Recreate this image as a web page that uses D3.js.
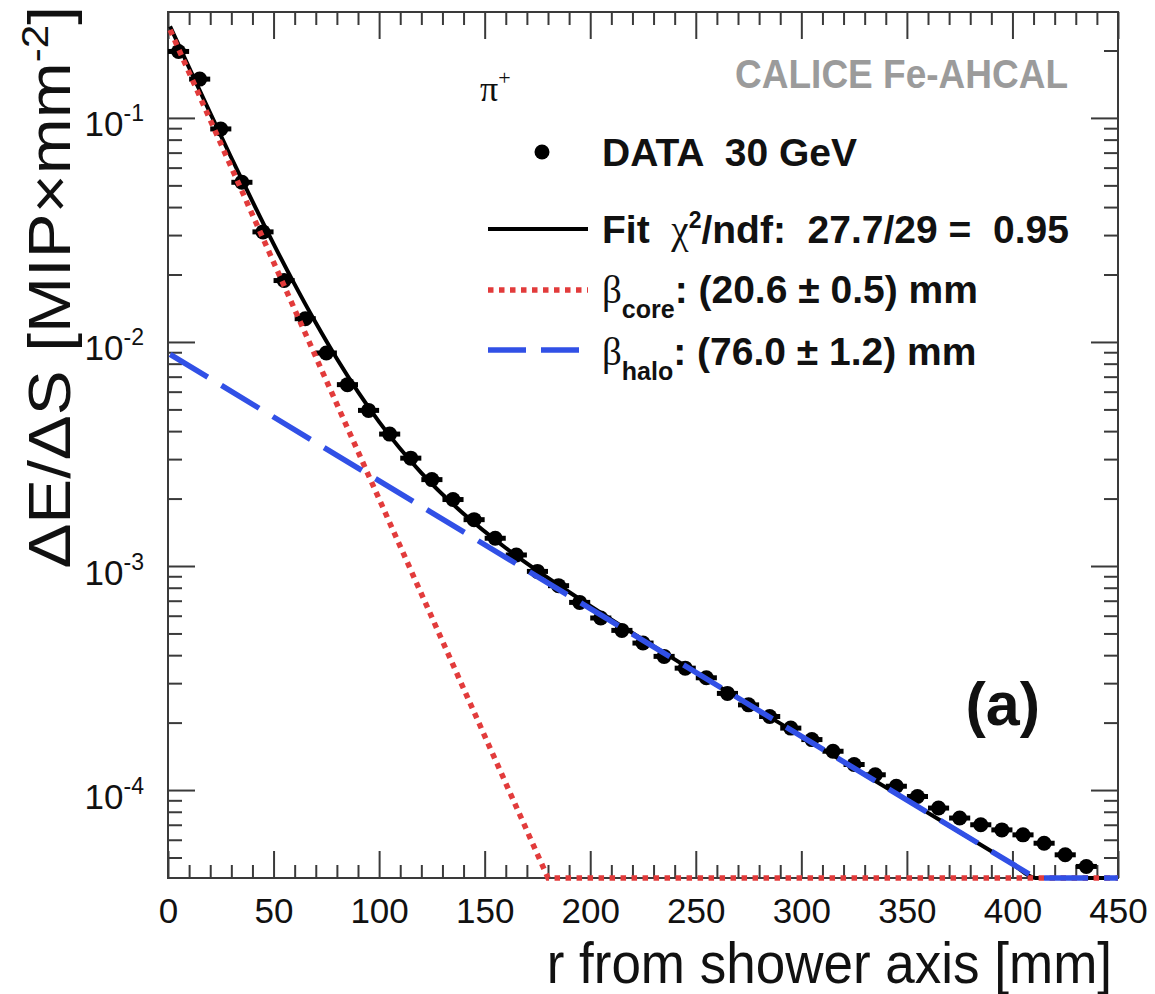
<!DOCTYPE html>
<html>
<head>
<meta charset="utf-8">
<script src="https://cdn.jsdelivr.net/npm/d3@7"></script>
<style>
  html, body { margin: 0; padding: 0; background: #fff; }
  svg { display: block; }
  text { font-family: "Liberation Sans", Arial, Helvetica, sans-serif; }
</style>
</head>
<body>
<div id="chart"></div>
<script>
const width = 1155;
const height = 994;
const frame = { left: 168, right: 1118, top: 12, bottom: 878 };

// bin centres [mm] and energy density per bin
const binCentres = [5, 15, 25, 35, 45, 55, 65, 75, 85, 95, 105, 115, 125, 135, 145, 155, 165, 175, 185, 195,
  205, 215, 225, 235, 245, 255, 265, 275, 285, 295, 305, 315, 325, 335, 345, 355, 365, 375, 385, 395,
  405, 415, 425, 435];
const energyDensity = [0.198, 0.149, 0.0893, 0.0516, 0.0310, 0.0188, 0.0127, 0.00893, 0.00645, 0.00495,
  0.00388, 0.00303, 0.00243, 0.00198, 0.00161, 0.00133, 0.00112, 0.000946, 0.000817, 0.000688,
  0.000586, 0.000516, 0.000453, 0.000395, 0.000350, 0.000317, 0.000270, 0.000240, 0.000213, 0.000189,
  0.000168, 0.000149, 0.000130, 0.000117, 0.000104, 0.0000936, 0.0000831, 0.0000750, 0.0000700, 0.0000664,
  0.0000631, 0.0000579, 0.0000514, 0.0000456];
const binHalfWidth = 5;

// fit curves (values below the frame sit on the x axis)
const fitR = [1, 10, 20, 30, 40, 50, 60, 70, 80, 90, 100, 120, 140, 160, 180, 200, 250, 300, 350, 400, 411, 450];
const fitValue = [0.2560, 0.1676, 0.1051, 0.0664, 0.0424, 0.0274, 0.01807, 0.01217, 0.00841, 0.00599, 0.00440,
  0.002605, 0.00171, 0.001203, 0.000884, 0.000664, 0.000335, 0.000174, 0.0000902, 0.0000468, 0.0000405, 0.0000405];
const coreR = [1, 180, 450];
const coreValue = [0.247, 0.0000405, 0.0000405];
const haloR = [1, 411, 450];
const haloValue = [0.0088, 0.0000405, 0.0000405];

const xDomain = [0, 450];
const yDomain = [0.0000405, 0.297];
const xMajorTicks = [0, 50, 100, 150, 200, 250, 300, 350, 400, 450];
const yMajorTicks = [1e-4, 1e-3, 1e-2, 1e-1];
const yTickExponents = ['-4', '-3', '-2', '-1'];

const fitColor = '#000000';
const coreColor = '#e23b3b';
const haloColor = '#3150e6';
const frameColor = '#3a3a3a';

const svg = d3.select('#chart').append('svg')
  .attr('width', width)
  .attr('height', height);

const x = d3.scaleLinear().domain(xDomain).range([frame.left, frame.right]);
const y = d3.scaleLog().domain(yDomain).range([frame.bottom, frame.top]);

const xMinor = d3.range(0, 451, 10).filter(v => v % 50 !== 0);
const yMinor = y.ticks().filter(v => !yMajorTicks.some(m => Math.abs(m - v) / m < 1e-6));

// axes with inward ticks
function styleAxis(g) {
  g.select('.domain').remove();
  g.selectAll('.tick line').attr('stroke', frameColor).attr('stroke-width', 2);
}

svg.append('g')
  .attr('transform', `translate(0,${frame.bottom})`)
  .call(d3.axisBottom(x).tickValues(xMajorTicks).tickSizeInner(-27).tickSizeOuter(0).tickPadding(20).tickFormat(d3.format('d')))
  .call(styleAxis)
  .call(g => g.selectAll('.tick text').attr('fill', '#111').style('font-size', '35px'));
svg.append('g')
  .attr('transform', `translate(0,${frame.bottom})`)
  .call(d3.axisBottom(x).tickValues(xMinor).tickSizeInner(-13).tickSizeOuter(0).tickFormat(''))
  .call(styleAxis);
svg.append('g')
  .attr('transform', `translate(0,${frame.top})`)
  .call(d3.axisTop(x).tickValues(xMajorTicks).tickSizeInner(-27).tickSizeOuter(0).tickFormat(''))
  .call(styleAxis);
svg.append('g')
  .attr('transform', `translate(0,${frame.top})`)
  .call(d3.axisTop(x).tickValues(xMinor).tickSizeInner(-13).tickSizeOuter(0).tickFormat(''))
  .call(styleAxis);

const yAxisLeft = svg.append('g')
  .attr('transform', `translate(${frame.left},0)`)
  .call(d3.axisLeft(y).tickValues(yMajorTicks).tickSizeInner(-27).tickSizeOuter(0).tickFormat(''))
  .call(styleAxis);
svg.append('g')
  .attr('transform', `translate(${frame.left},0)`)
  .call(d3.axisLeft(y).tickValues(yMinor).tickSizeInner(-14).tickSizeOuter(0).tickFormat(''))
  .call(styleAxis);
svg.append('g')
  .attr('transform', `translate(${frame.right},0)`)
  .call(d3.axisRight(y).tickValues(yMajorTicks).tickSizeInner(-27).tickSizeOuter(0).tickFormat(''))
  .call(styleAxis);
svg.append('g')
  .attr('transform', `translate(${frame.right},0)`)
  .call(d3.axisRight(y).tickValues(yMinor).tickSizeInner(-14).tickSizeOuter(0).tickFormat(''))
  .call(styleAxis);

// power-of-ten labels on the y axis
yAxisLeft.selectAll('.tick text').remove();
yAxisLeft.selectAll('.tick').each(function (d, i) {
  const t = d3.select(this).append('text')
    .attr('x', -24)
    .attr('y', 18)
    .attr('text-anchor', 'end')
    .attr('fill', '#111')
    .style('font-size', '35px');
  t.append('tspan').text('10');
  t.append('tspan').attr('dy', -15).style('font-size', '23px').text(yTickExponents[i]);
});

// frame
svg.append('rect')
  .attr('x', frame.left)
  .attr('y', frame.top)
  .attr('width', frame.right - frame.left)
  .attr('height', frame.bottom - frame.top)
  .attr('fill', 'none')
  .attr('stroke', frameColor)
  .attr('stroke-width', 2);

// data points with horizontal bin-width bars
const points = binCentres.map((r, i) => ({ r, v: energyDensity[i] }));
const dataG = svg.append('g');
dataG.selectAll('line.err')
  .data(points)
  .enter()
  .append('line')
  .attr('class', 'err')
  .attr('x1', d => x(d.r - binHalfWidth))
  .attr('x2', d => x(d.r + binHalfWidth))
  .attr('y1', d => y(d.v))
  .attr('y2', d => y(d.v))
  .attr('stroke', '#000')
  .attr('stroke-width', 5);
dataG.selectAll('circle')
  .data(points)
  .enter()
  .append('circle')
  .attr('cx', d => x(d.r))
  .attr('cy', d => y(d.v))
  .attr('r', 7.5)
  .attr('fill', '#000');

const line = d3.line().x(d => x(d[0])).y(d => y(d[1]));
const lineG = svg.append('g');
lineG.append('path')
  .datum(fitR.map((r, i) => [r, fitValue[i]]))
  .attr('d', line.curve(d3.curveMonotoneX))
  .attr('fill', 'none')
  .attr('stroke', fitColor)
  .attr('stroke-width', 4);
lineG.append('path')
  .datum(coreR.map((r, i) => [r, coreValue[i]]))
  .attr('d', d3.line().x(d => x(d[0])).y(d => y(d[1])))
  .attr('fill', 'none')
  .attr('stroke', coreColor)
  .attr('stroke-width', 5.5)
  .attr('stroke-dasharray', '5.5 5.5');
lineG.append('path')
  .datum(haloR.map((r, i) => [r, haloValue[i]]))
  .attr('d', d3.line().x(d => x(d[0])).y(d => y(d[1])))
  .attr('fill', 'none')
  .attr('stroke', haloColor)
  .attr('stroke-width', 5.5)
  .attr('stroke-dasharray', '44 16');

// labels inside the frame
svg.append('text')
  .attr('transform', 'translate(1068,88) scale(1,1.08)')
  .attr('text-anchor', 'end')
  .attr('fill', '#9b9b9b')
  .style('font-size', '37px')
  .style('font-weight', 'bold')
  .text('CALICE Fe-AHCAL');

const pi = svg.append('text')
  .attr('x', 480)
  .attr('y', 101)
  .style('font-family', '"Liberation Serif", serif')
  .style('font-size', '36px')
  .attr('fill', '#111');
pi.append('tspan').text('π');
pi.append('tspan').attr('dy', -16).style('font-size', '22px').text('+');

svg.append('text')
  .attr('x', 1040)
  .attr('y', 725)
  .attr('text-anchor', 'end')
  .style('font-size', '61px')
  .style('font-weight', 'bold')
  .attr('fill', '#111')
  .text('(a)');

// legend
const legendX1 = 488;
const legendX2 = 588;
const legendTextX = 602;
const legend = svg.append('g').style('font-size', '39px').style('font-weight', 'bold').attr('fill', '#111');

legend.append('circle').attr('cx', 542).attr('cy', 152).attr('r', 7.5).attr('fill', '#000');
legend.append('text').attr('x', legendTextX).attr('y', 166).attr('xml:space', 'preserve').text('DATA  30 GeV');

legend.append('line').attr('x1', legendX1).attr('x2', legendX2).attr('y1', 229).attr('y2', 229)
  .attr('stroke', fitColor).attr('stroke-width', 4);
const fitText = legend.append('text').attr('x', legendTextX).attr('y', 243).attr('xml:space', 'preserve');
fitText.append('tspan').text('Fit  ');
fitText.append('tspan').style('font-family', '"Liberation Serif", serif').style('font-weight', 'normal').text('χ');
fitText.append('tspan').attr('dy', -15).style('font-size', '23px').text('2');
fitText.append('tspan').attr('dy', 15).text('/ndf:  27.7/29 =  0.95');

legend.append('line').attr('x1', legendX1).attr('x2', legendX2).attr('y1', 290).attr('y2', 290)
  .attr('stroke', coreColor).attr('stroke-width', 5.5).attr('stroke-dasharray', '5.5 5.5');
const coreText = legend.append('text').attr('x', legendTextX).attr('y', 303).attr('xml:space', 'preserve');
coreText.append('tspan').style('font-family', '"Liberation Serif", serif').style('font-weight', 'normal').text('β');
coreText.append('tspan').attr('dy', 15).style('font-size', '25px').text('core');
coreText.append('tspan').attr('dy', -15).text(': (20.6 ± 0.5) mm');

legend.append('line').attr('x1', legendX1).attr('x2', legendX2).attr('y1', 350).attr('y2', 350)
  .attr('stroke', haloColor).attr('stroke-width', 5.5).attr('stroke-dasharray', '38 15');
const haloText = legend.append('text').attr('x', legendTextX).attr('y', 365).attr('xml:space', 'preserve');
haloText.append('tspan').style('font-family', '"Liberation Serif", serif').style('font-weight', 'normal').text('β');
haloText.append('tspan').attr('dy', 15).style('font-size', '25px').text('halo');
haloText.append('tspan').attr('dy', -15).text(': (76.0 ± 1.2) mm');

// axis titles
svg.append('text')
  .attr('transform', 'translate(1112,983) scale(1,1.08)')
  .attr('text-anchor', 'end')
  .style('font-size', '53px')
  .attr('fill', '#111')
  .text('r from shower axis [mm]');

const yTitle = svg.append('text')
  .attr('transform', 'translate(70,6) rotate(-90) scale(1.14,1)')
  .attr('text-anchor', 'end')
  .style('font-size', '59px')
  .attr('fill', '#111');
yTitle.append('tspan').text('ΔE/ΔS [MIP×mm');
yTitle.append('tspan').attr('dy', -22).style('font-size', '37px').text('-2');
yTitle.append('tspan').attr('dy', 22).text(']');
</script>
</body>
</html>
